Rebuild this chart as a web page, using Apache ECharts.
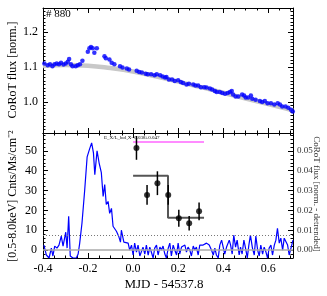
<!DOCTYPE html>
<html><head><meta charset="utf-8">
<script src="https://cdn.jsdelivr.net/npm/echarts@6/dist/echarts.min.js"></script>
<style>html,body{margin:0;padding:0;background:#fff}#c{width:327px;height:296px}</style>
</head><body><div id="c"></div>
<script>
// ---------- data ----------
const topYTicks = [1.0, 1.1, 1.2];
const botYTicks = [0, 10, 20, 30, 40, 50];
const rightYTicks = [0, 0.01, 0.02, 0.03, 0.04, 0.05];

const corotTime = [-0.394,-0.379,-0.369,-0.358,-0.349,-0.339,-0.329,-0.320,-0.309,-0.299,-0.290,-0.284,-0.276,-0.269,-0.255,-0.246,-0.236,-0.225,-0.201,-0.194,-0.187,-0.179,-0.172,-0.161,-0.127,-0.121,-0.105,-0.095,-0.083,-0.058,-0.047,-0.028,-0.018,0.016,0.027,0.039,0.056,0.065,0.080,0.095,0.105,0.120,0.131,0.142,0.148,0.159,0.173,0.185,0.200,0.212,0.222,0.237,0.248,0.267,0.277,0.289,0.301,0.316,0.326,0.341,0.351,0.363,0.371,0.385,0.396,0.408,0.420,0.430,0.438,0.444,0.455,0.467,0.484,0.493,0.500,0.511,0.523,0.529,0.544,0.563,0.573,0.585,0.597,0.612,0.627,0.642,0.652,0.662,0.677,0.689,0.701,0.709];
const corotFlux = [1.110,1.105,1.108,1.102,1.108,1.110,1.108,1.112,1.107,1.110,1.115,1.123,1.108,1.102,1.102,1.105,1.108,1.118,1.144,1.154,1.158,1.154,1.141,1.154,1.131,1.125,1.122,1.112,1.108,1.102,1.099,1.096,1.093,1.089,1.086,1.084,1.081,1.079,1.079,1.076,1.079,1.076,1.073,1.070,1.071,1.064,1.064,1.060,1.062,1.057,1.054,1.050,1.052,1.050,1.047,1.047,1.042,1.042,1.041,1.038,1.035,1.031,1.028,1.028,1.025,1.023,1.025,1.028,1.031,1.021,1.015,1.015,1.021,1.018,1.012,1.012,1.018,1.009,1.006,1.002,0.999,1.002,0.996,0.996,0.992,0.996,0.992,0.986,0.986,0.983,0.977,0.972];

const trendTime = [-0.4,-0.3,-0.2,-0.1,0.0,0.1,0.2,0.3,0.4,0.5,0.6,0.71];
const trendFlux = [1.103,1.106,1.104,1.097,1.087,1.073,1.058,1.042,1.026,1.009,0.993,0.975];

const lcTime = [-0.396,-0.385,-0.373,-0.363,-0.356,-0.348,-0.338,-0.329,-0.319,-0.311,-0.299,-0.293,-0.286,-0.279,-0.267,-0.252,-0.244,-0.237,-0.227,-0.215,-0.204,-0.193,-0.184,-0.176,-0.170,-0.160,-0.151,-0.141,-0.133,-0.126,-0.119,-0.111,-0.104,-0.096,-0.089,-0.081,-0.074,-0.064,-0.056,-0.052,-0.041,-0.033,-0.022,-0.015,-0.007,0.000,0.007,0.015,0.022,0.030,0.037,0.044,0.052,0.059,0.067,0.074,0.081,0.089,0.096,0.104,0.111,0.119,0.126,0.133,0.141,0.148,0.156,0.163,0.170,0.178,0.185,0.193,0.200,0.207,0.215,0.222,0.230,0.237,0.244,0.252,0.259,0.267,0.274,0.281,0.289,0.296,0.311,0.326,0.338,0.348,0.356,0.363,0.370,0.378,0.385,0.393,0.400,0.407,0.415,0.427,0.433,0.440,0.447,0.455,0.462,0.471,0.477,0.484,0.492,0.501,0.507,0.514,0.521,0.530,0.538,0.545,0.553,0.560,0.567,0.575,0.582,0.590,0.597,0.604,0.612,0.619,0.627,0.634,0.641,0.649,0.656,0.664,0.671,0.679,0.686,0.693,0.701,0.710];
const lcFlux = [2.5,-2.5,-4,1,-3,2,1,2.5,7,2,9,1,17,-3,-4,-4,-2,3.5,13.5,30,47,51,54,49,38,50,44,39,27,33,23,24.5,18.5,21,12,11,9.5,7,4,10,4,5,3.5,0,2.5,-2.5,3.5,-1,2.5,-3,-4,1.5,-2,2.5,-2.5,1.5,-1,-4,1,2.5,-2.5,1.5,0,2,-2,-4,1,3.5,-3,2.5,0,-2.5,3.5,-2,1.5,1,2.5,-1,1.5,0,-3,2,0,1.5,-2.5,2.5,2.5,3.5,2.5,0,-2.5,1,-2.5,-4,2.5,5,1.5,-2,1.5,5,2.5,-2,7.5,1.5,5,-2.5,1.5,-2,5,0,-4,2.5,7.5,1,-2.5,7,0,-3,2.5,-2,1.5,-1,-4,1,2.5,-2.5,2.5,5,11,3.5,6,0,6,7,2.5,-2.5,1,5];

const xrayTime = [0.015, 0.062, 0.108, 0.156, 0.203, 0.249, 0.293];
const xrayRate = [51.5, 27.8, 33.7, 27.8, 16.0, 13.5, 19.5];
const xrayErr  = [6.0, 5.0, 6.0, 5.0, 4.3, 3.7, 4.5];

const blockTime = [0, 0.155, 0.155, 0.315];
const blockRate = [37.4, 37.4, 16.3, 16.3];
const ratioTime = [0, 0.315];
const ratioLevel = [54.5, 54.5];
const quiescentLevel = 7.3;
const ratioText = 'E_X/L_bol,X=0.038±0.047';
const starLabel = '# 880';

// ---------- chart ----------
const F = 'Liberation Serif';
const zip = (a, b) => a.map((v, i) => [v, b[i]]);

function xAx(grid, pos, showLabel) {
  return {
    type: 'value', gridIndex: grid, position: pos, min: -0.4, max: 0.71, interval: 0.2,
    axisLine: { onZero: false, lineStyle: { color: '#000', width: 1 } },
    axisTick: { inside: true, length: 5, lineStyle: { color: '#000' } },
    minorTick: { show: true, splitNumber: 4, length: 2.5, lineStyle: { color: '#000' } },
    splitLine: { show: false }, minorSplitLine: { show: false },
    axisLabel: { show: showLabel, showMaxLabel: false, showMinLabel: true,
      formatter: v => v.toFixed(1), fontFamily: F, fontSize: 12, color: '#000', margin: 5 }
  };
}
function yMajor(grid, pos, min, max, ticks, label) {
  return {
    type: 'value', gridIndex: grid, position: pos, min: min, max: max,
    axisLine: { show: true, onZero: false, lineStyle: { color: '#000', width: 1 } },
    axisTick: { inside: true, length: 5, customValues: ticks, lineStyle: { color: '#000' } },
    splitLine: { show: false },
    axisLabel: label ? Object.assign({ customValues: ticks }, label) : { show: false }
  };
}
function yMinor(grid, pos, min, max, step) {
  return {
    type: 'value', gridIndex: grid, position: pos, min: min, max: max, interval: step,
    axisLine: { show: false, onZero: false },
    axisTick: { inside: true, length: 2.5, lineStyle: { color: '#000' } },
    splitLine: { show: false }, axisLabel: { show: false }
  };
}

const chart = echarts.init(document.getElementById('c'), null, { renderer: 'canvas' });
chart.setOption({
  animation: false,
  backgroundColor: '#fff',
  grid: [
    { left: 43, top: 8, width: 250, height: 125 },
    { left: 43, top: 133, width: 250, height: 125 }
  ],
  xAxis: [xAx(0, 'bottom', false), xAx(0, 'top', false), xAx(1, 'bottom', true), xAx(1, 'top', false)],
  yAxis: [
    yMajor(0, 'left', 0.91, 1.27, topYTicks, { fontFamily: F, fontSize: 12, color: '#000', margin: 5, formatter: v => v.toFixed(1) }),
    yMinor(0, 'left', 0.91, 1.27, 0.01),
    yMajor(0, 'right', 0.91, 1.27, topYTicks, null),
    yMinor(0, 'right', 0.91, 1.27, 0.01),
    yMajor(1, 'left', -4, 59, botYTicks, { fontFamily: F, fontSize: 12, color: '#000', margin: 6 }),
    yMinor(1, 'left', -4, 59, 2),
    yMajor(1, 'right', -0.004, 0.059, rightYTicks, { fontFamily: F, fontSize: 9, color: '#333', margin: 4, formatter: v => v.toFixed(2) }),
    yMinor(1, 'right', -0.004, 0.059, 0.002)
  ],
  graphic: [
    { type: 'text', left: 46, top: 9, style: { text: starLabel, font: '11px "Liberation Serif"', fill: '#000' } },
    { type: 'text', x: 104, y: 140, style: { text: ratioText, font: '5px "Liberation Serif"', fill: '#000', textVerticalAlign: 'bottom' } },
    { type: 'text', x: 13, y: 70, rotation: Math.PI / 2, style: { text: 'CoRoT flux [norm.]', font: '12px "Liberation Serif"', fill: '#000', textAlign: 'center', textVerticalAlign: 'middle' } },
    { type: 'text', x: 13, y: 196, rotation: Math.PI / 2, style: { text: '[0.5-8.0keV] Cnts/Ms/cm⁻²', font: '12px "Liberation Serif"', fill: '#000', textAlign: 'center', textVerticalAlign: 'middle' } },
    { type: 'text', x: 316, y: 194, rotation: -Math.PI / 2, style: { text: 'CoRoT flux [norm. - detrended]', font: '9px "Liberation Serif"', fill: '#333', textAlign: 'center', textVerticalAlign: 'middle' } },
    { type: 'text', x: 164, y: 285, style: { text: 'MJD - 54537.8', font: '13px "Liberation Serif"', fill: '#000', textAlign: 'center', textVerticalAlign: 'middle' } }
  ],
  series: [
    { type: 'line', xAxisIndex: 0, yAxisIndex: 0, data: zip(trendTime, trendFlux), smooth: true, showSymbol: false,
      lineStyle: { color: '#c8c8c8', width: 4.5 }, z: 1, silent: true },
    { type: 'scatter', xAxisIndex: 0, yAxisIndex: 0, data: zip(corotTime, corotFlux), symbol: 'circle', symbolSize: 4.5,
      itemStyle: { color: '#0000ff' }, z: 3 },
    { type: 'line', xAxisIndex: 2, yAxisIndex: 4, data: zip(lcTime, lcFlux), showSymbol: false,
      lineStyle: { color: '#0000ff', width: 1.2 }, z: 3,
      markLine: { symbol: 'none', silent: true, label: { show: false }, animation: false,
        data: [
          { yAxis: 0, lineStyle: { color: '#aaaaaa', width: 1.5, type: 'solid' } },
          { yAxis: quiescentLevel, lineStyle: { color: '#777', width: 1, type: [1, 2] } }
        ] } },
    { type: 'line', xAxisIndex: 2, yAxisIndex: 4, data: zip(blockTime, blockRate), showSymbol: false,
      lineStyle: { color: '#555', width: 2 }, z: 4 },
    { type: 'line', xAxisIndex: 2, yAxisIndex: 4, data: zip(ratioTime, ratioLevel), showSymbol: false,
      lineStyle: { color: '#ff66ff', width: 1.5 }, z: 4 },
    { type: 'custom', xAxisIndex: 2, yAxisIndex: 4, z: 5,
      data: xrayTime.map((t, i) => [t, xrayRate[i] - xrayErr[i], xrayRate[i] + xrayErr[i]]),
      encode: { x: 0, y: [1, 2] },
      renderItem: (params, api) => {
        const lo = api.coord([api.value(0), api.value(1)]);
        const hi = api.coord([api.value(0), api.value(2)]);
        return { type: 'line', shape: { x1: lo[0], y1: lo[1], x2: hi[0], y2: hi[1] }, style: { stroke: '#000', lineWidth: 1.5 } };
      } },
    { type: 'scatter', xAxisIndex: 2, yAxisIndex: 4, data: zip(xrayTime, xrayRate), symbol: 'circle', symbolSize: 6,
      itemStyle: { color: '#000' }, z: 6 }
  ]
});
</script></body></html>
